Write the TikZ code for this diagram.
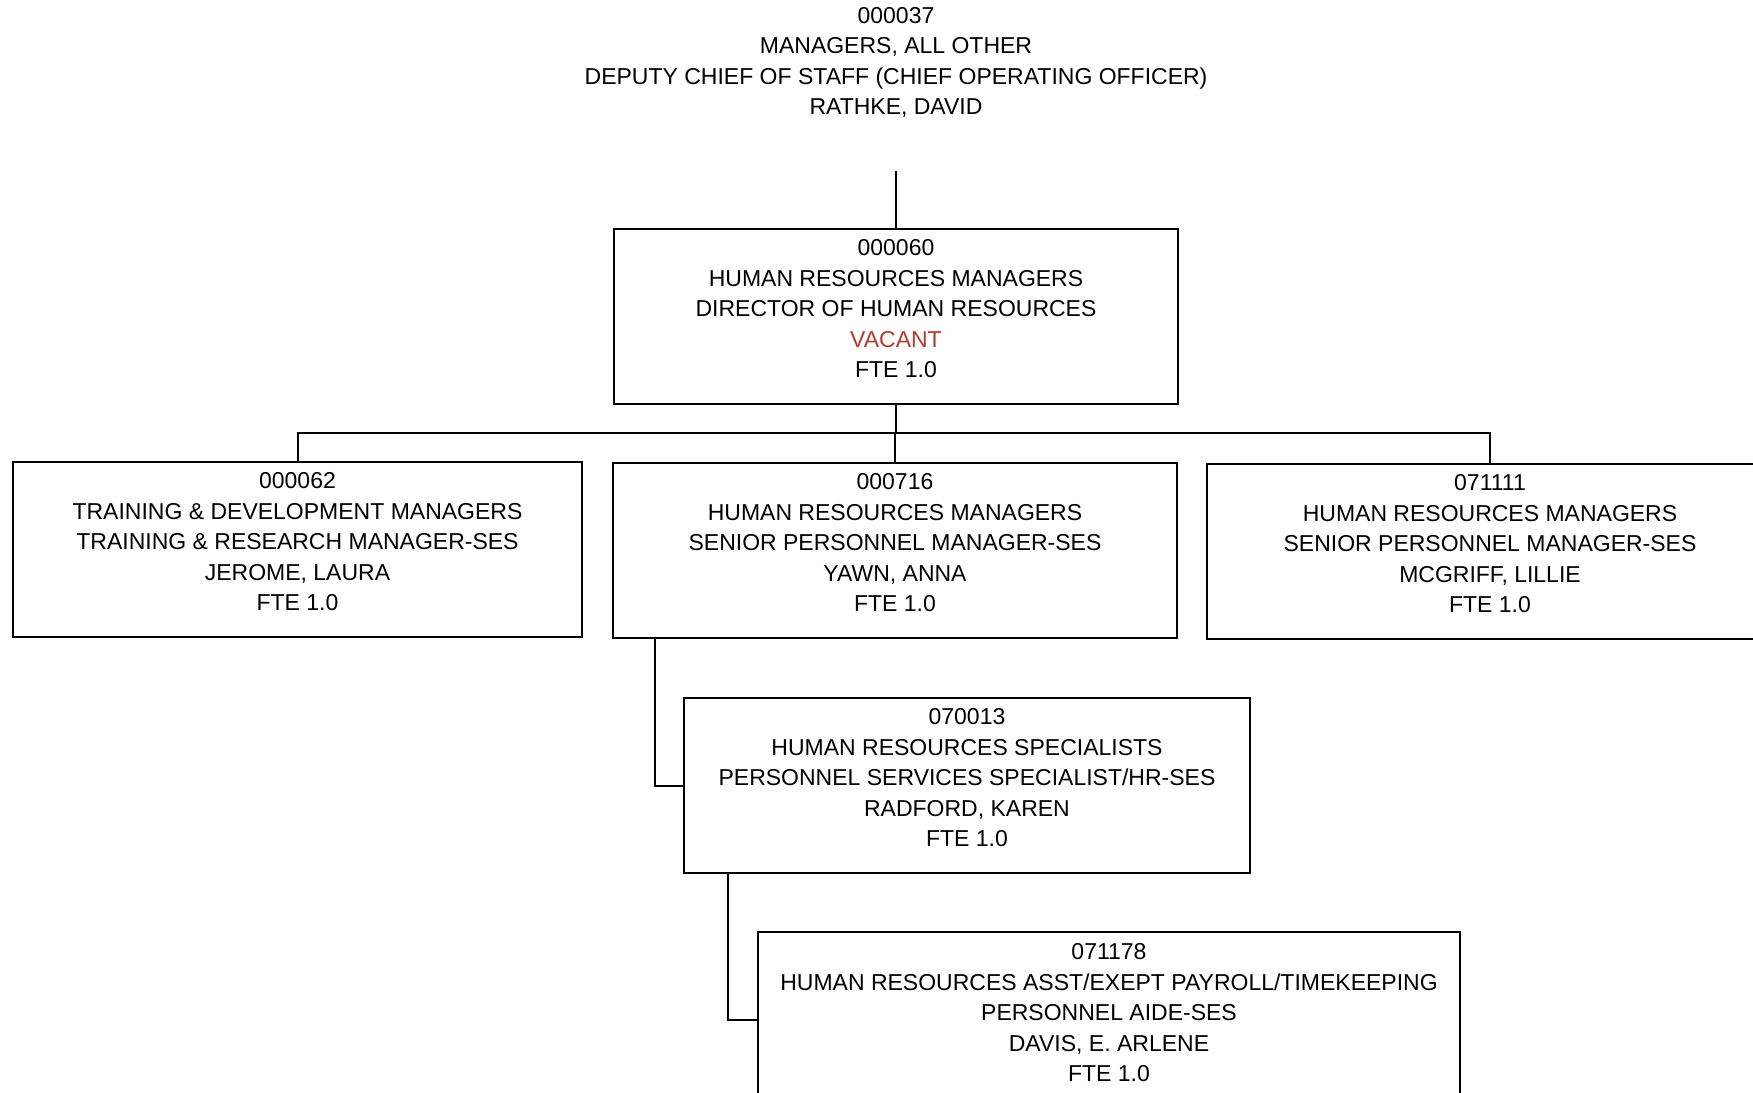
\documentclass[tikz,border=0pt]{standalone}
\usepackage{fontspec}
\setmainfont{Liberation Sans}
\definecolor{vacant}{RGB}{172,62,48}
\begin{document}
\begin{tikzpicture}[x=1pt,y=-1pt,
  orgbox/.style={draw=black, line width=2pt, minimum width=#1, minimum height=175pt, inner sep=0pt},
  orgtext/.style={align=center, inner sep=0pt, font=\fontsize{23}{30.5}\selectfont},
  link/.style={line width=2pt}]
\useasboundingbox (0,0) rectangle (1753,1092);
\clip (0,0) rectangle (1753,1092);

% head position (no frame)
\node[orgtext] (head) at (896,62.5)
  {000037\\MANAGERS, ALL OTHER\\DEPUTY CHIEF OF STAFF (CHIEF OPERATING OFFICER)\\RATHKE, DAVID};
\coordinate (headfoot) at (896,171);

% director
\node[orgbox=564pt] (hrdir) at (896,316.5) {};
\node[orgtext] (hrdir-t) at (896,309)
  {000060\\HUMAN RESOURCES MANAGERS\\DIRECTOR OF HUMAN RESOURCES\\{\color{vacant}VACANT}\\FTE 1.0};

% managers row
\node[orgbox=569pt] (train) at (297.5,549.5) {};
\node[orgtext] (train-t) at (297.5,542)
  {000062\\TRAINING \& DEVELOPMENT MANAGERS\\TRAINING \& RESEARCH MANAGER-SES\\JEROME, LAURA\\FTE 1.0};

\node[orgbox=564pt] (yawn) at (895,550.5) {};
\node[orgtext] (yawn-t) at (895,543)
  {000716\\HUMAN RESOURCES MANAGERS\\SENIOR PERSONNEL MANAGER-SES\\YAWN, ANNA\\FTE 1.0};

\node[orgbox=566pt] (mcgriff) at (1490,551.5) {};
\node[orgtext] (mcgriff-t) at (1490,544)
  {071111\\HUMAN RESOURCES MANAGERS\\SENIOR PERSONNEL MANAGER-SES\\MCGRIFF, LILLIE\\FTE 1.0};

% specialist
\node[orgbox=566pt] (radford) at (967,785.5) {};
\node[orgtext] (radford-t) at (967,778)
  {070013\\HUMAN RESOURCES SPECIALISTS\\PERSONNEL SERVICES SPECIALIST/HR-SES\\RADFORD, KAREN\\FTE 1.0};

% aide
\node[orgbox=702pt] (davis) at (1109,1019.5) {};
\node[orgtext] (davis-t) at (1109,1013)
  {071178\\HUMAN RESOURCES ASST/EXEPT PAYROLL/TIMEKEEPING\\PERSONNEL AIDE-SES\\DAVIS, E. ARLENE\\FTE 1.0};

% connectors
\coordinate (bus) at (0,433);
\draw[link] (headfoot) -- (hrdir.north);
\draw[link] (hrdir.south) -- (hrdir.south |- bus);
\draw[link] (train.north) -- (train.north |- bus) -| (mcgriff.north);
\draw[link] (yawn.north) -- (yawn.north |- bus);
\draw[link] ([xshift=43pt]yawn.south west) |- (radford.west);
\draw[link] ([xshift=45pt]radford.south west) |- (davis.west);
\end{tikzpicture}
\end{document}
